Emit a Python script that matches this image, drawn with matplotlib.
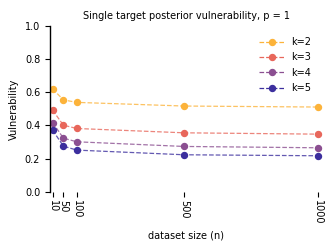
import matplotlib
matplotlib.use("Agg")
import matplotlib.pyplot as plt

# data
sizes = [10, 50, 100, 500, 1000]
k2 = [0.620, 0.554, 0.539, 0.517, 0.511]
k3 = [0.492, 0.402, 0.382, 0.356, 0.348]
k4 = [0.418, 0.324, 0.302, 0.274, 0.266]
k5 = [0.372, 0.276, 0.252, 0.224, 0.218]
labels = ['k=2', 'k=3', 'k=4', 'k=5']
colors = ['#fcb33a', '#e8675b', '#8b4f91', '#3c2f9e']

fig = plt.figure(figsize=(3.33, 2.52), dpi=100)
ax = fig.add_axes([0.15, 0.238, 0.82, 0.66])

for vals, lab, c in zip([k2, k3, k4, k5], labels, colors):
    ax.plot(sizes, vals, '--', color=c, lw=0.9, alpha=0.8)
    ax.plot(sizes, vals, 'o', color=c, ms=4.3)
    ax.plot([], [], '--o', color=c, lw=0.9, ms=4.3, label=lab)

ax.set_xlim(0, 1018)
ax.set_ylim(0, 1.0)
ax.set_xticks(sizes)
ax.set_xticklabels([str(s) for s in sizes], rotation=-90, fontsize=7)
ax.set_yticks([0, 0.2, 0.4, 0.6, 0.8, 1.0])
ax.tick_params(axis='y', labelsize=7, length=3.5, width=0.8)
ax.tick_params(axis='x', length=3.5, width=0.8, pad=2)
for s in ['top', 'right', 'bottom']:
    ax.spines[s].set_visible(False)
ax.spines['left'].set_linewidth(1.0)

ax.set_xlabel('dataset size (n)', fontsize=7, labelpad=4.5)
ax.set_ylabel('Vulnerability', fontsize=7)
ax.set_title('Single target posterior vulnerability, p = 1', fontsize=7, pad=5)
ax.legend(frameon=False, fontsize=7, loc='upper right', handlelength=2.5,
          labelspacing=0.55, bbox_to_anchor=(0.99, 0.985))

fig.savefig('out.png', dpi=100)
